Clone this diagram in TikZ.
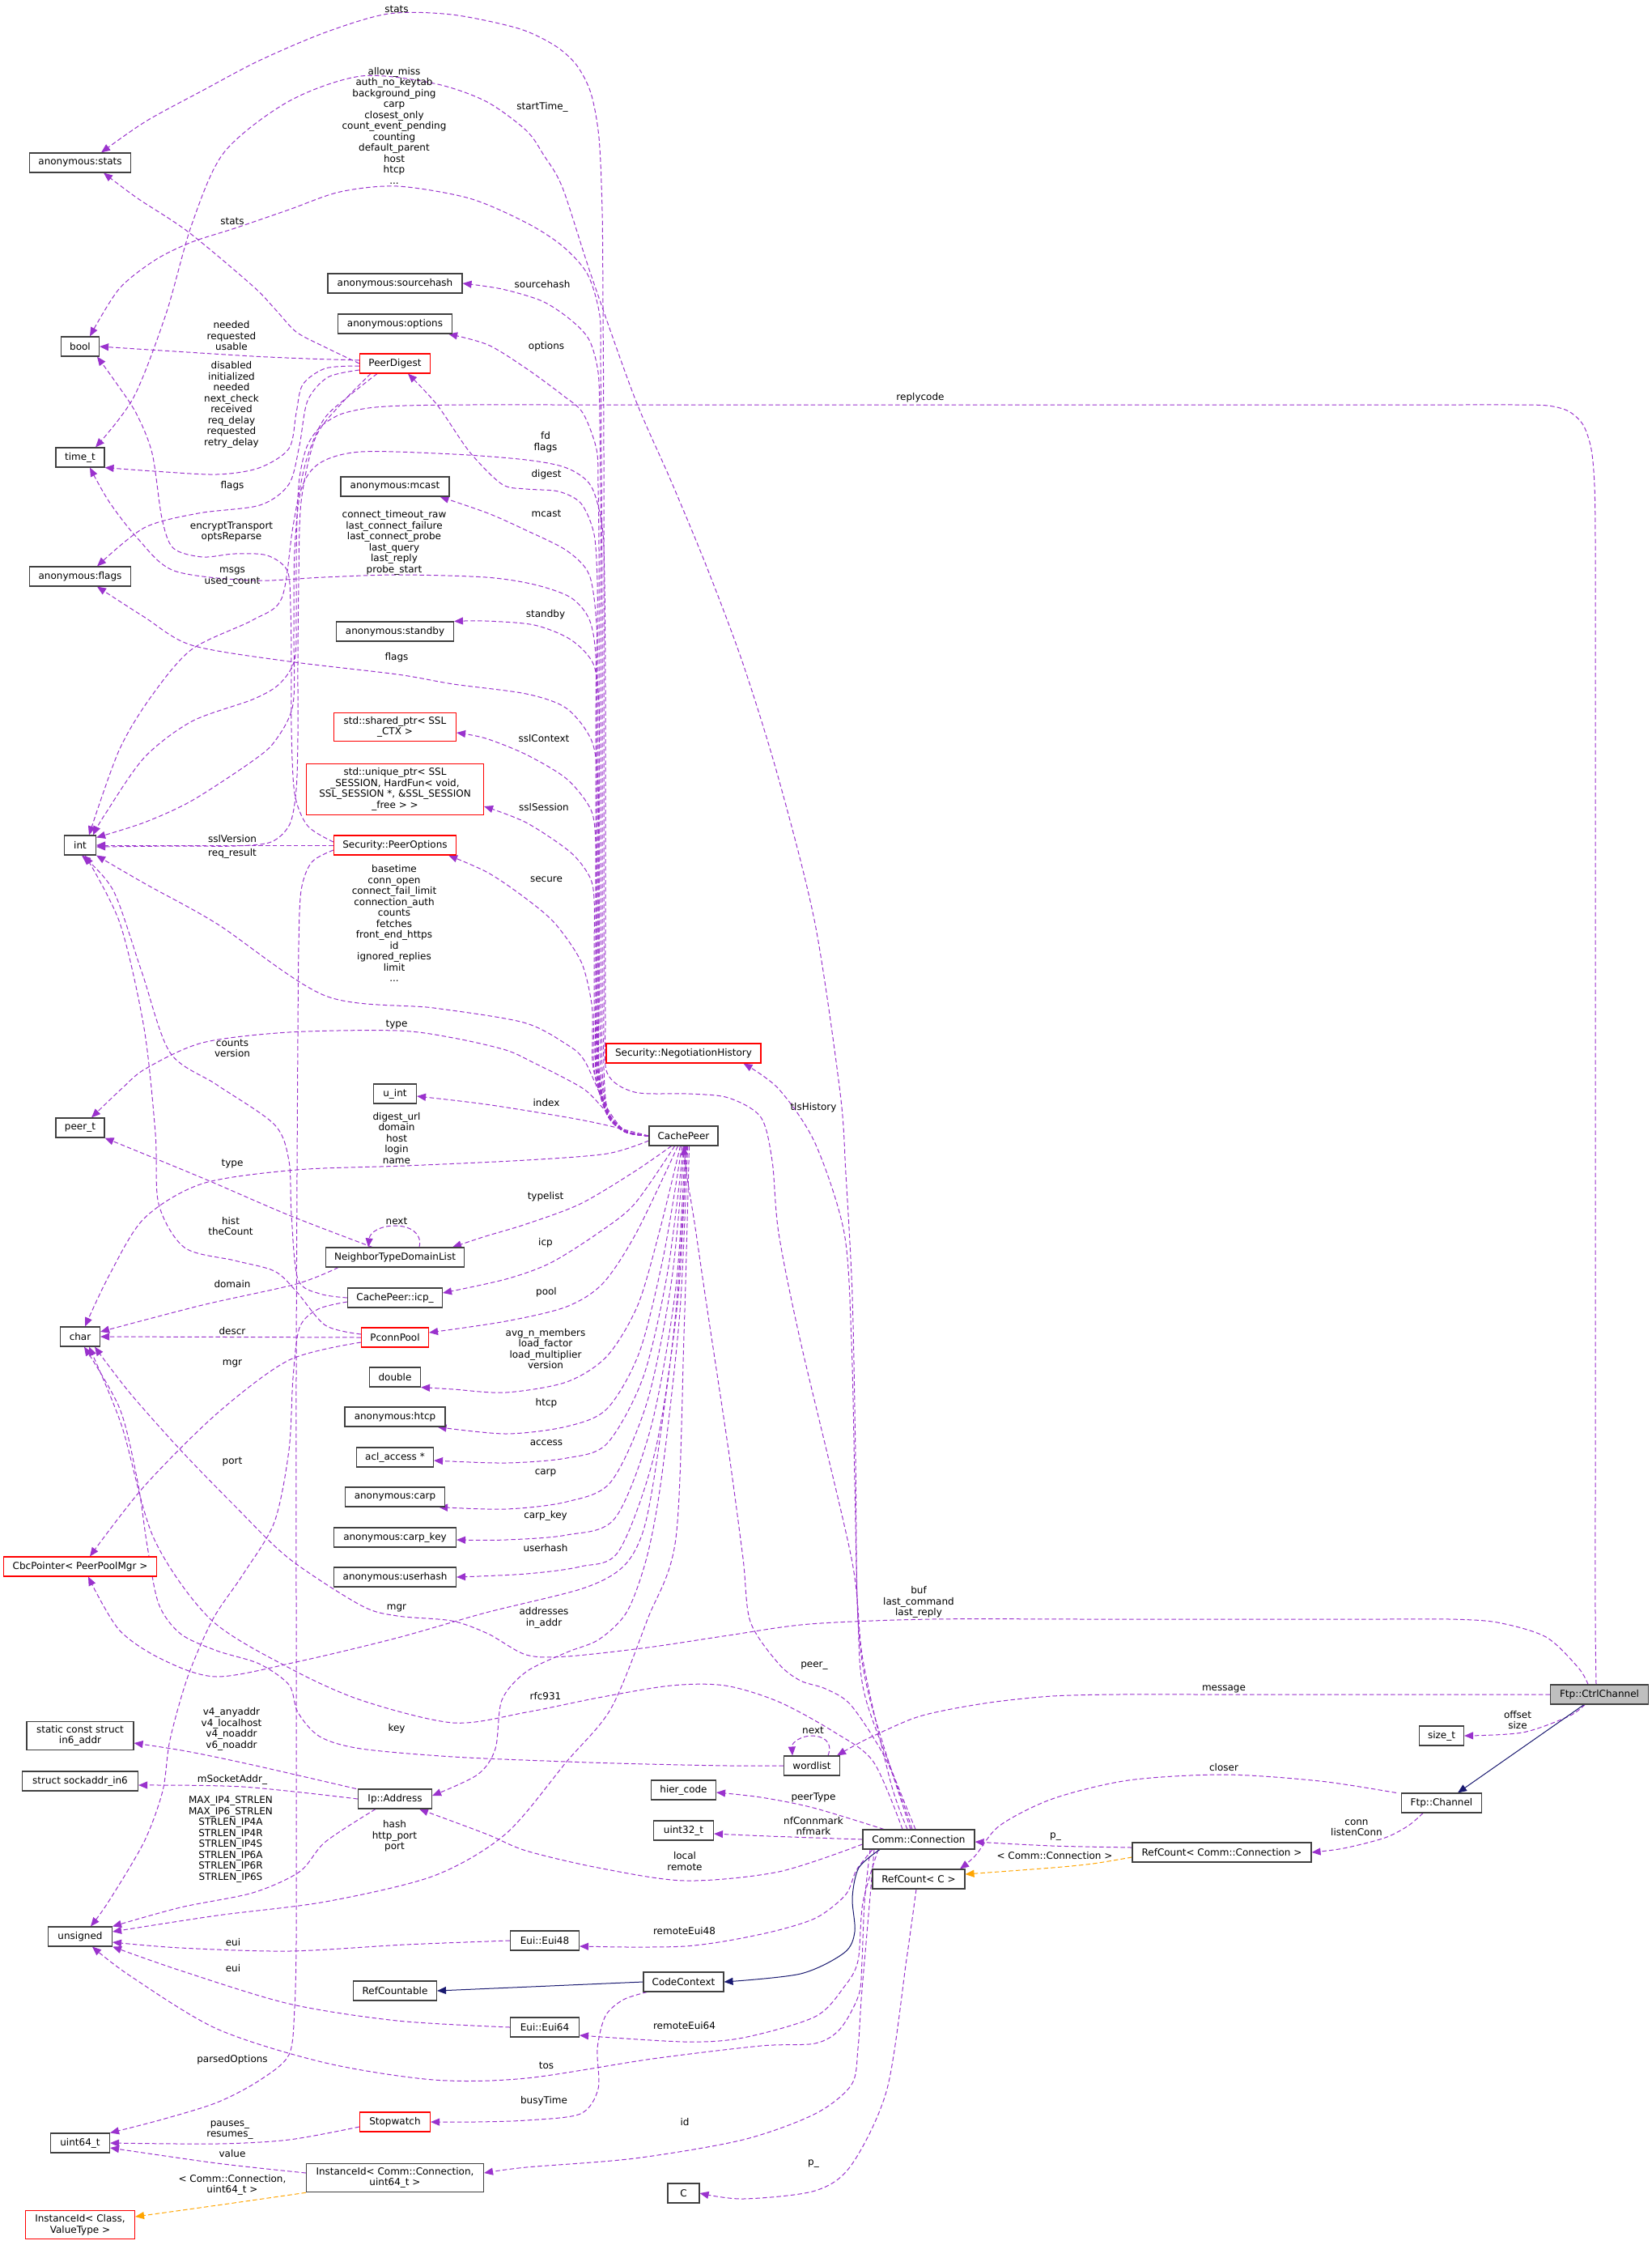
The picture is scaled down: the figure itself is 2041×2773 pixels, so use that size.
\documentclass[tikz,border=0pt]{standalone}
\usepackage{fontspec}
\setmainfont{DejaVu Sans}
\usetikzlibrary{arrows.meta,backgrounds}

\definecolor{memcol}{HTML}{9A32CD}
\definecolor{inhcol}{HTML}{191970}
\definecolor{tplcol}{HTML}{FFA500}
\definecolor{boxline}{HTML}{404040}
\definecolor{rootfill}{HTML}{BFBFBF}

\tikzset{
  cls/.style={draw=boxline, line width=1.1pt, fill=white, font=\fontsize{12}{13.5}\selectfont,
    inner xsep=2pt, inner ysep=5pt, minimum height=24pt, align=center},
  incls/.style={cls, draw=red},
  lbl/.style={font=\fontsize{12}{13.5}\selectfont, inner sep=0pt, align=center},
  mem/.style={memcol, line width=1pt, dash pattern=on 5.5pt off 3.2pt, -{Triangle[length=11pt,width=9pt]}},
  inh/.style={inhcol, line width=1pt, -{Triangle[length=11pt,width=9pt]}},
  tpl/.style={tplcol, line width=1pt, dash pattern=on 5.5pt off 3.2pt, -{Triangle[length=11pt,width=9pt]}},
}

\begin{document}
\begin{tikzpicture}[x=1pt, y=-1pt]
\useasboundingbox (0,0) rectangle (2041,2773);

% left column
\node[cls, minimum width=125pt] (stats) at (99,201) {anonymous:stats};
\node[cls, minimum width=47pt] (bool) at (99,428) {bool};
\node[cls, minimum width=60pt] (timet) at (99,565) {time\_t};
\node[cls, minimum width=125pt] (flags) at (99,712) {anonymous:flags};
\node[cls, minimum width=39pt] (int) at (99,1044) {int};
\node[cls, minimum width=60pt] (peert) at (99,1393) {peer\_t};
\node[cls, minimum width=49pt] (char) at (99,1651) {char};
\node[incls, minimum width=189pt] (cbc) at (99,1935) {CbcPointer< PeerPoolMgr >};
\node[cls, minimum width=132pt] (inaddr) at (99,2144) {static const struct\\in6\_addr};
\node[cls, minimum width=143pt] (sockin) at (99,2200) {struct sockaddr\_in6};
\node[cls, minimum width=79pt] (unsig) at (99,2392) {unsigned};
\node[cls, minimum width=73pt] (u64) at (99,2647) {uint64\_t};
\node[incls, minimum width=135pt] (instcv) at (99,2748) {InstanceId< Class,\\ValueType >};

% middle column
\node[cls, minimum width=166pt] (srchash) at (488,350) {anonymous:sourcehash};
\node[cls, minimum width=141pt] (opts) at (488,400) {anonymous:options};
\node[incls, minimum width=87pt] (pdig) at (488,449) {PeerDigest};
\node[cls, minimum width=134pt] (mcast) at (488,601) {anonymous:mcast};
\node[cls, minimum width=145pt] (standby) at (488,780) {anonymous:standby};
\node[incls, minimum width=151pt] (shptr) at (488,898) {std::shared\_ptr< SSL\\\_CTX >};
\node[incls, minimum width=219pt] (unptr) at (488,975) {std::unique\_ptr< SSL\\\_SESSION, HardFun< void,\\ SSL\_SESSION *, \&SSL\_SESSION\\\_free > >};
\node[incls, minimum width=151pt] (popts) at (488,1044) {Security::PeerOptions};
\node[cls, minimum width=53pt] (uint) at (488,1351) {u\_int};
\node[cls, minimum width=171pt] (ntdl) at (488,1553) {NeighborTypeDomainList};
\node[cls, minimum width=117pt] (icp) at (488,1603) {CachePeer::icp\_};
\node[incls, minimum width=83pt] (pconn) at (488,1652) {PconnPool};
\node[cls, minimum width=63pt] (dbl) at (488,1701) {double};
\node[cls, minimum width=124pt] (htcp) at (488,1750) {anonymous:htcp};
\node[cls, minimum width=95pt] (acl) at (488,1800) {acl\_access *};
\node[cls, minimum width=123pt] (carp) at (488,1849) {anonymous:carp};
\node[cls, minimum width=151pt] (carpkey) at (488,1899) {anonymous:carp\_key};
\node[cls, minimum width=151pt] (uhash) at (488,1948) {anonymous:userhash};
\node[cls, minimum width=91pt] (ipaddr) at (488,2222) {Ip::Address};
\node[cls, minimum width=103pt] (refcnt) at (488,2459) {RefCountable};
\node[incls, minimum width=87pt] (stopw) at (488,2621) {Stopwatch};
\node[cls, minimum width=219pt] (instcc) at (488,2690) {InstanceId< Comm::Connection,\\uint64\_t >};
\node[cls, minimum width=85pt] (eui48) at (673,2397) {Eui::Eui48};
\node[cls, minimum width=85pt] (eui64) at (673,2504) {Eui::Eui64};

% right part
\node[incls, minimum width=191pt] (neghist) at (844.5,1301) {Security::NegotiationHistory};
\node[cls, minimum width=85pt] (cpeer) at (844.5,1403) {CachePeer};
\node[cls, minimum width=80pt] (hier) at (844.5,2211) {hier\_code};
\node[cls, minimum width=74pt] (u32) at (844.5,2261) {uint32\_t};
\node[cls, minimum width=99pt] (codectx) at (844.5,2448) {CodeContext};
\node[cls, minimum width=39pt] (cc) at (844.5,2709) {C};
\node[cls, minimum width=69pt] (wlist) at (1003,2181) {wordlist};
\node[cls, minimum width=138pt] (conn) at (1135,2272) {Comm::Connection};
\node[cls, minimum width=114pt] (rcc) at (1135,2321) {RefCount< C >};
\node[cls, minimum width=221pt] (rccon) at (1509.5,2288) {RefCount< Comm::Connection >};
\node[cls, minimum width=55pt] (sizet) at (1781,2144) {size\_t};
\node[cls, minimum width=99pt] (ftpch) at (1781,2227) {Ftp::Channel};
\node[cls, fill=rootfill, minimum width=121pt] (ctrl) at (1976,2093) {Ftp::CtrlChannel};

\begin{scope}[on background layer]
\fill[white] (0,0) rectangle (2041,2773);

% CachePeer members going up the bundle
\draw[mem] plot[smooth] coordinates {(cpeer.west) (772,1396) (751,1372) (746,1320) (746,1240) (746,1120) (746,960) (746,760) (746,560) (745,380) (744,260) (740,170) (730,115) (712,80) (685,56) (640,35) (558,18) (480,17) (402,40) (320,75) (250,112) (180,150) ([xshift=26pt]stats.north)};
\draw[mem] plot[smooth] coordinates {(cpeer.west) (772,1397) (751,1374) (744,1320) (744,1240) (744,1120) (744,960) (744,750) (743,560) (742,450) (741,390) (726,339) (695,304) (650,275) (580,245) (491,230) (420,237) (357,259) (290,282) (237,299) (192,321) (147,357) ([xshift=12pt]bool.north)};
\draw[mem] plot[smooth] coordinates {(cpeer.west) (772,1397) (751,1375) (742,1320) (742,1240) (742,1120) (742,960) (742,780) (742,620) (741,520) (739,460) (728,420) (705,395) (670,372) (620,357) (srchash.east)};
\draw[mem] plot[smooth] coordinates {(cpeer.west) (772,1397) (750,1375) (740,1320) (740,1240) (740,1120) (740,960) (740,800) (740,680) (739,600) (737,555) (720,510) (695,488) (650,455) (603,426) ([xshift=-5pt]opts.south east)};
\draw[mem] plot[smooth] coordinates {(cpeer.west) (772,1397) (750,1375) (738,1320) (738,1240) (738,1120) (738,1000) (738,880) (738,790) (738,720) (734,660) (718,622) (690,607) (650,604) (620,598) (580,558) (540,500) ([xshift=16pt]pdig.south)};
\draw[mem] plot[smooth] coordinates {(cpeer.west) (772,1398) (750,1376) (737,1320) (737,1240) (737,1120) (737,1000) (737,900) (737,830) (737,770) (728,710) (700,680) (650,655) (603,634) ([xshift=-12pt]mcast.south east)};
\draw[mem] plot[smooth] coordinates {(cpeer.west) (772,1398) (750,1376) (736,1320) (736,1240) (736,1120) (736,1000) (736,900) (736,810) (728,765) (705,738) (660,722) (600,713) (491,710) (400,713) (312,717) (215,705) (170,665) (135,620) ([xshift=12pt]timet.south)};
\draw[mem] plot[smooth] coordinates {(cpeer.west) (772,1398) (750,1376) (740,1320) (740,1240) (740,1140) (740,1040) (740,950) (740,870) (733,820) (705,790) (660,772) (600,767) (standby.north east)};
\draw[mem] plot[smooth] coordinates {(cpeer.west) (772,1398) (750,1376) (739,1320) (739,1240) (739,1150) (739,1060) (739,970) (731,915) (700,875) (650,857) (560,845) (491,833) (357,817) (237,797) (178,762) ([xshift=21pt]flags.south)};
\draw[mem] plot[smooth] coordinates {(cpeer.west) (772,1398) (750,1376) (736,1320) (736,1240) (736,1160) (736,1090) (736,1040) (730,1000) (700,962) (650,932) (600,912) ([yshift=-7pt]shptr.east)};
\draw[mem] plot[smooth] coordinates {(cpeer.west) (772,1398) (750,1377) (734,1320) (734,1250) (734,1180) (734,1110) (728,1082) (704,1052) (650,1016) ([yshift=-21pt]unptr.east)};
\draw[mem] plot[smooth] coordinates {(cpeer.west) (772,1398) (750,1377) (733,1320) (732,1280) (731,1240) (718,1188) (686,1141) (650,1110) (603,1078) ([xshift=-10pt]popts.south east)};
\draw[mem] plot[smooth] coordinates {(cpeer.west) (772,1398) (748,1372) (725,1348) (700,1333) (660,1313) (625,1297) (560,1282) (491,1273) (357,1275) (250,1288) (180,1320) (150,1345) ([xshift=14pt]peert.north)};
\draw[mem] plot[smooth] coordinates {(cpeer.west) (772,1397) (748,1365) (722,1310) (700,1290) (647,1263) (536,1245) (402,1230) (268,1141) (180,1092) (int.south east)};
\draw[mem] plot[smooth] coordinates {(cpeer.west) (750,1390) (700,1380) (600,1364) ([yshift=-3pt]uint.east)};
\draw[mem] plot[smooth] coordinates {([yshift=-6pt]cpeer.west) (750,1425) (650,1433) (500,1440) (366,1445) (250,1462) (178,1505) (135,1575) ([xshift=6pt]char.north)};

% CachePeer members fanning down
\draw[mem] plot[smooth] coordinates {([xshift=-15pt]cpeer.south) (784,1447) (717,1487) (650,1512) (600,1527) ([xshift=-15pt]ntdl.north east)};
\draw[mem] plot[smooth] coordinates {([xshift=-11pt]cpeer.south) (784,1487) (739,1523) (680,1560) (625,1580) ([yshift=6pt]icp.east)};
\draw[mem] plot[smooth] coordinates {([xshift=-7pt]cpeer.south) (786,1523) (745,1585) (700,1614) (625,1632) ([yshift=6pt]pconn.east)};
\draw[mem] plot[smooth] coordinates {([xshift=-4pt]cpeer.south) (815,1520) (788,1612) (750,1675) (700,1707) (625,1720) (560,1716) (dbl.south east)};
\draw[mem] plot[smooth] coordinates {([xshift=-2pt]cpeer.south) (820,1550) (790,1670) (750,1740) (700,1762) (625,1771) ([xshift=-10pt]htcp.south east)};
\draw[mem] plot[smooth] coordinates {(cpeer.south) (825,1570) (795,1700) (750,1783) (700,1801) (625,1807) ([yshift=-4pt]acl.east)};
\draw[mem] plot[smooth] coordinates {([xshift=1pt]cpeer.south) (830,1580) (800,1730) (755,1830) (700,1855) (625,1864) ([xshift=-8pt]carp.south east)};
\draw[mem] plot[smooth] coordinates {([xshift=2pt]cpeer.south) (835,1590) (805,1760) (760,1875) (700,1896) (625,1902) ([yshift=-3pt]carpkey.east)};
\draw[mem] plot[smooth] coordinates {([xshift=3pt]cpeer.south) (838,1600) (810,1790) (765,1915) (717,1935) (650,1944) (uhash.east)};
\draw[mem] plot[smooth] coordinates {([xshift=5pt]cpeer.south) (840,1620) (818,1820) (800,1920) (775,1990) (740,2025) (700,2041) (650,2065) (620,2100) (612,2160) (590,2192) ([yshift=4pt]ipaddr.east)};
\draw[mem] plot[smooth] coordinates {([xshift=4pt]cpeer.south) (835,1620) (812,1800) (795,1890) (770,1935) (720,1962) (600,1992) (491,2023) (370,2052) (268,2071) (201,2050) (147,2013) ([xshift=10pt]cbc.south)};
\draw[mem] plot[smooth] coordinates {([xshift=7pt]cpeer.south) (845,1650) (835,1900) (800,2000) (755,2110) (700,2176) (625,2265) (536,2317) (402,2349) (268,2366) ([yshift=6pt]unsig.east)};

% PeerDigest
\draw[mem] plot[smooth] coordinates {(pdig.west) (400,428) (366,410) (340,382) (312,353) (232,286) (170,245) ([xshift=29pt]stats.south)};
\draw[mem] plot[smooth] coordinates {([yshift=4pt]pdig.west) (380,443) (312,440) (200,433) (bool.east)};
\draw[mem] plot[smooth] coordinates {([yshift=-3pt]pdig.west) (402,455) (374,475) (366,510) (357,554) (320,578) (268,586) (190,582) (timet.south east)};
\draw[mem] plot[smooth] coordinates {([yshift=-8pt]pdig.west) (405,466) (380,495) (370,550) (357,598) (321,624) (245,634) (178,652) ([xshift=21pt]flags.north)};
\draw[mem] plot[smooth] coordinates {([xshift=-22pt]pdig.south) (430,490) (400,518) (378,570) (362,650) (348,739) (312,766) (237,802) (187,860) (147,927) ([xshift=11pt]int.north)};
\draw[mem] plot[smooth] coordinates {([xshift=-30pt]pdig.south) (425,495) (390,540) (372,620) (369,720) (368,820) (368,910) (366,975) (358,1018) (335,1040) (290,1045) (220,1045) ([yshift=-2pt]int.east)};

% Security::PeerOptions
\draw[mem] (popts.west) -- (int.east);
\draw[mem] plot[smooth] coordinates {([yshift=4pt]popts.west) (380,1020) (364,980) (360,900) (360,820) (359,750) (355,705) (330,686) (290,684) (250,688) (214,677) (200,640) (188,560) (168,510) (140,468) ([xshift=21pt]bool.south)};
\draw[mem] plot[smooth] coordinates {([yshift=-6pt]popts.west) (385,1065) (372,1100) (369,1170) (368,1280) (367,1450) (366,1700) (366,2000) (366,2250) (366,2400) (364,2480) (357,2538) (320,2570) (268,2597) (200,2618) (u64.north east)};

% CachePeer::icp_, NeighborTypeDomainList, PconnPool
\draw[mem] plot[smooth] coordinates {(icp.west) (395,1598) (368,1580) (360,1500) (357,1434) (339,1389) (268,1340) (210,1300) (175,1200) (140,1100) ([xshift=2pt]int.south)};
\draw[mem] plot[smooth] coordinates {([yshift=-5pt]icp.west) (393,1617) (370,1640) (362,1702) (357,1791) (339,1880) (300,1945) (263,2000) (232,2071) (210,2149) (201,2212) (178,2275) (134,2349) ([xshift=13pt]unsig.north)};
\draw[mem] plot[smooth] coordinates {([xshift=-28pt]ntdl.north) (357,1501) (250,1455) (peert.south east)};
\draw[mem] plot[smooth] coordinates {([xshift=-70pt]ntdl.south) (366,1586) (250,1612) ([yshift=6pt]char.east)};
\draw[mem] ([xshift=30pt]ntdl.north) .. controls (522,1522) and (505,1514) .. (488,1514) .. controls (470,1514) and (457,1522) .. ([xshift=-33pt]ntdl.north);
\draw[mem] (pconn.west) -- (char.east);
\draw[mem] plot[smooth] coordinates {([yshift=4pt]pconn.west) (402,1637) (366,1595) (339,1570) (290,1557) (228,1541) (196,1487) (192,1400) (178,1270) (148,1140) ([xshift=6pt]int.south)};
\draw[mem] plot[smooth] coordinates {([yshift=-6pt]pconn.west) (357,1680) (268,1746) (178,1836) ([xshift=12pt]cbc.north)};

% Ip::Address, Eui
\draw[mem] plot[smooth] coordinates {([xshift=-48pt]ipaddr.north) (312,2180) (230,2163) ([yshift=-9pt]inaddr.east)};
\draw[mem] plot[smooth] coordinates {(ipaddr.west) (300,2207) ([yshift=-5pt]sockin.east)};
\draw[mem] plot[smooth] coordinates {([xshift=-24pt]ipaddr.south) (402,2275) (370,2312) (312,2338) (223,2356) (unsig.north east)};
\draw[mem] plot[smooth] coordinates {(eui48.west) (500,2402) (357,2410) (223,2406) ([yshift=-7pt]unsig.east)};
\draw[mem] plot[smooth] coordinates {(eui64.west) (491,2496) (357,2475) (223,2434) (unsig.south east)};

% Comm::Connection
\draw[mem] plot[smooth] coordinates {([xshift=-60pt]conn.south) (1068,2350) (1065,2422) (1061,2464) (1038,2506) (1007,2524) (940,2527) (806,2543) (650,2567) (536,2569) (402,2548) (268,2506) (160,2440) ([xshift=15pt]unsig.south)};
\draw[mem] plot[smooth] coordinates {([xshift=-55pt]conn.south) (1070,2400) (1064,2470) (1060,2530) (1052,2575) (1007,2611) (918,2643) (784,2666) (650,2677) ([yshift=6pt]instcc.east)};
\draw[mem] plot[smooth] coordinates {([xshift=-57pt]conn.south) (1058,2310) (1045,2340) (1010,2368) (962,2384) (900,2397) (846,2404) (780,2405) ([yshift=-7pt]eui48.east)};
\draw[mem] plot[smooth] coordinates {([xshift=-50pt]conn.south) (1066,2350) (1060,2422) (1043,2454) (1007,2491) (918,2517) (846,2522) ([yshift=-10pt]eui64.east)};
\draw[inh] plot[smooth] coordinates {([xshift=-48pt]conn.south) (1061,2307) (1053,2344) (1056,2386) (1043,2412) (989,2438) (codectx.east)};
\draw[mem] plot[smooth] coordinates {([yshift=-6pt]conn.west) (962,2312) (846,2323) (739,2307) (650,2286) (600,2265) ([xshift=30pt]ipaddr.south)};
\draw[mem] plot[smooth] coordinates {([xshift=-43pt]conn.north) (1005,2233) (940,2220) ([yshift=-3pt]hier.east)};
\draw[mem] plot[smooth] coordinates {(conn.west) (950,2268) ([yshift=-4pt]u32.east)};
\draw[mem] plot[smooth] coordinates {([xshift=-20pt]conn.north) (1079,2176) (1030,2139) (962,2102) (896,2082) (829,2082) (739,2097) (650,2115) (560,2128) (446,2100) (357,2060) (260,2000) (190,1900) (150,1760) ([xshift=11pt]char.south)};
\draw[mem] plot[smooth] coordinates {([xshift=-8pt]conn.north) (1096,2176) (1052,2107) (1020,2086) (989,2076) (962,2055) (927,2003) (918,1925) (900,1791) (873,1612) (858,1510) (849,1455) (cpeer.south)};
\draw[mem] plot[smooth] coordinates {([xshift=-4pt]conn.north) (1070,2100) (1060,2000) (1056,1830) (1052,1657) (1043,1523) (1007,1412) (962,1345) ([xshift=74pt]neghist.south)};
\draw[mem] plot[smooth] coordinates {([xshift=-10pt]conn.north) (1075,2100) (1060,2000) (1057,1800) (1053,1600) (1045,1450) (1038,1350) (1007,1141) (962,962) (918,820) (873,700) (829,594) (784,491) (730,339) (695,232) (672,192) (650,161) (600,125) (536,103) (446,94) (357,125) (277,188) (237,277) (205,388) (165,491) ([xshift=19pt]timet.north)};
\draw[mem] plot[smooth] coordinates {([xshift=-14pt]conn.north) (1100,2200) (1066,2050) (1052,1925) (989,1657) (962,1523) (954,1434) (940,1380) (900,1356) (851,1351) (784,1349) (750,1325) (748,1260) (748,1150) (748,1000) (748,850) (747,720) (744,650) (730,600) (700,578) (650,568) (560,561) (446,558) (395,572) (372,605) (364,680) (363,780) (362,870) (340,915) (312,940) (237,989) (178,1016) ([yshift=-3pt]int.north east)};

% CodeContext, Stopwatch, InstanceId
\draw[inh] (codectx.west) -- (refcnt.east);
\draw[mem] plot[smooth] coordinates {([xshift=-45pt]codectx.south) (770,2470) (748,2490) (738,2530) (739,2580) (717,2611) (650,2619) (585,2621) (stopw.east)};
\draw[mem] plot[smooth] coordinates {([yshift=-6pt]stopw.west) (357,2643) (268,2648) (u64.east)};
\draw[mem] plot[smooth] coordinates {([yshift=6pt]instcc.west) (268,2672) ([yshift=-6pt]u64.east)};
\draw[tpl] plot[smooth] coordinates {(instcc.south west) (268,2724) ([yshift=10pt]instcv.east)};

% wordlist, RefCount
\draw[mem] plot[smooth] coordinates {(wlist.west) (900,2181) (800,2179) (700,2176) (560,2170) (446,2160) (395,2145) (368,2115) (357,2081) (320,2055) (268,2039) (223,2018) (196,1981) (182,1910) (170,1830) (148,1740) ([xshift=5pt]char.south)};
\draw[mem] ([xshift=20pt]wlist.north) .. controls (1030,2150) and (1015,2144) .. (1003,2144) .. controls (990,2144) and (978,2152) .. ([xshift=-24pt]wlist.north);
\draw[mem] plot[smooth] coordinates {([xshift=-3pt]rcc.south) (1120,2420) (1096,2580) (1052,2674) (1007,2706) (918,2716) (cc.east)};

% Ftp::CtrlChannel and Ftp::Channel
\draw[mem] plot[smooth] coordinates {([xshift=-4pt]ctrl.north) (1971,2000) (1971,1800) (1971,1600) (1971,1400) (1971,1200) (1971,1000) (1971,800) (1971,670) (1970,600) (1966,555) (1956,525) (1938,508) (1912,501) (1870,500) (1800,500) (1700,500) (1500,500) (1300,500) (1100,500) (900,500) (700,500) (580,500) (500,501) (455,504) (420,512) (395,528) (379,552) (370,590) (367,640) (366,700) (366,760) (364,815) (345,845) (312,864) (237,891) (178,936) (129,1007) ([xshift=16pt]int.north)};
\draw[mem] plot[smooth] coordinates {([xshift=-14pt]ctrl.north) (1950,2060) (1910,2022) (1850,2004) (1791,2000) (1700,2000) (1550,2000) (1350,2000) (1150,2000) (1000,2006) (900,2020) (800,2035) (700,2046) (650,2044) (603,2018) (558,2002) (491,1996) (446,1983) (357,1925) (290,1860) (223,1791) (160,1720) ([xshift=18pt]char.south)};
\draw[mem] plot[smooth] coordinates {(ctrl.west) (1800,2093) (1650,2093) (1500,2093) (1380,2093) (1300,2095) (1230,2102) (1170,2112) (1127,2123) (1069,2149) ([xshift=31pt]wlist.north)};
\draw[mem] plot[smooth] coordinates {([xshift=-18pt]ctrl.south) (1938,2120) (1881,2140) (sizet.east)};
\draw[inh] ([xshift=-19pt]ctrl.south) -- ([xshift=20pt]ftpch.north);
\draw[mem] plot[smooth] coordinates {([xshift=-56pt]ftpch.north) (1631,2200) (1513,2192) (1394,2199) (1300,2222) (1235,2255) (1205,2292) ([xshift=51pt]rcc.north)};
\draw[mem] plot[smooth] coordinates {([xshift=-23pt]ftpch.south) (1740,2255) (1711,2270) (1660,2283) (rccon.east)};
\draw[mem] plot[smooth] coordinates {([yshift=6pt]rccon.west) (1300,2280) ([yshift=-3pt]conn.east)};
\draw[tpl] plot[smooth] coordinates {([yshift=-6pt]rccon.west) (1350,2302) (1300,2307) ([yshift=6pt]rcc.east)};
\end{scope}

% edge labels
\node[lbl] (lstatscp) at (490,11) {stats};
\node[lbl] (lboolcp) at (487,155) {allow\_miss\\auth\_no\_keytab\\background\_ping\\carp\\closest\_only\\count\_event\_pending\\counting\\default\_parent\\host\\htcp\\...};
\node[lbl] (lstart) at (670,132) {startTime\_};
\node[lbl] (lstatspd) at (287,273) {stats};
\node[lbl] (lsrc) at (670,351) {sourcehash};
\node[lbl] (lopts) at (675,428) {options};
\node[lbl] (lboolpd) at (286,415) {needed\\requested\\usable};
\node[lbl] (ltimepd) at (286,500) {disabled\\initialized\\needed\\next\_check\\received\\req\_delay\\requested\\retry\_delay};
\node[lbl] (lfd) at (674,546) {fd\\flags};
\node[lbl] (ldigest) at (675,586) {digest};
\node[lbl] (lflagspd) at (287,600) {flags};
\node[lbl] (lmcast) at (675,634) {mcast};
\node[lbl] (lencr) at (286,657) {encryptTransport\\optsReparse};
\node[lbl] (ltimecp) at (487,670.5) {connect\_timeout\_raw\\last\_connect\_failure\\last\_connect\_probe\\last\_query\\last\_reply\\probe\_start};
\node[lbl] (lmsgs) at (287,712.5) {msgs\\used\_count};
\node[lbl] (lstandby) at (674,759) {standby};
\node[lbl] (lflagscp) at (490,812) {flags};
\node[lbl] (lctx) at (672,912) {sslContext};
\node[lbl] (lsess) at (672,997) {sslSession};
\node[lbl] (lsslver) at (287,1036) {sslVersion};
\node[lbl] (lreqres) at (287,1054) {req\_result};
\node[lbl] (lsecure) at (675,1086) {secure};
\node[lbl] (lintcp) at (487,1140.5) {basetime\\conn\_open\\connect\_fail\_limit\\connection\_auth\\counts\\fetches\\front\_end\_https\\id\\ignored\_replies\\limit\\...};
\node[lbl] (ltypecp) at (490,1266) {type};
\node[lbl] (lcounts) at (287,1295) {counts\\version};
\node[lbl] (lreply) at (1137,491) {replycode};
\node[lbl] (ltls) at (1005,1368) {tlsHistory};
\node[lbl] (lindex) at (675,1362.5) {index};
\node[lbl] (lcharcp) at (490,1406) {digest\_url\\domain\\host\\login\\name};
\node[lbl] (ltypent) at (287,1437.5) {type};
\node[lbl] (ltypelist) at (674,1478.6) {typelist};
\node[lbl] (lhist) at (285,1514.5) {hist\\theCount};
\node[lbl] (lnextnt) at (490,1508.5) {next};
\node[lbl] (licp) at (674,1535) {icp};
\node[lbl] (ldomain) at (287,1586) {domain};
\node[lbl] (lpool) at (675,1596) {pool};
\node[lbl] (ldescr) at (287,1644) {descr};
\node[lbl] (ldbl) at (674,1666) {avg\_n\_members\\load\_factor\\load\_multiplier\\version};
\node[lbl] (lmgrpc) at (287,1684) {mgr};
\node[lbl] (lhtcp) at (675,1733.5) {htcp};
\node[lbl] (laccess) at (675,1782.6) {access};
\node[lbl] (lport) at (287,1806) {port};
\node[lbl] (lcarp) at (674,1819) {carp};
\node[lbl] (lcarpkey) at (674,1872) {carp\_key};
\node[lbl] (luhash) at (674,1911.6) {userhash};
\node[lbl] (lmgrcp) at (490,1986) {mgr};
\node[lbl] (laddr) at (672,1998.5) {addresses\\in\_addr};
\node[lbl] (lbuf) at (1135,1979) {buf\\last\_command\\last\_reply};
\node[lbl] (lpeer) at (1006,2058) {peer\_};
\node[lbl] (lrfc) at (674,2095) {rfc931};
\node[lbl] (lkey) at (490,2135) {key};
\node[lbl] (lv4) at (286,2136) {v4\_anyaddr\\v4\_localhost\\v4\_noaddr\\v6\_noaddr};
\node[lbl] (lnextwl) at (1004.5,2137) {next};
\node[lbl] (lsock) at (287,2198) {mSocketAddr\_};
\node[lbl] (lptype) at (1005,2220) {peerType};
\node[lbl] (lnf) at (1005,2255.5) {nfConnmark\\nfmark};
\node[lbl] (lmax) at (285,2272) {MAX\_IP4\_STRLEN\\MAX\_IP6\_STRLEN\\STRLEN\_IP4A\\STRLEN\_IP4R\\STRLEN\_IP4S\\STRLEN\_IP6A\\STRLEN\_IP6R\\STRLEN\_IP6S};
\node[lbl] (lhash) at (487.5,2268) {hash\\http\_port\\port};
\node[lbl] (llocal) at (846,2299) {local\\remote};
\node[lbl] (lpconn) at (1304,2269) {p\_};
\node[lbl] (ltplconn) at (1303,2292) {< Comm::Connection >};
\node[lbl] (leui48) at (845.5,2385) {remoteEui48};
\node[lbl] (leuia) at (288,2399) {eui};
\node[lbl] (leuib) at (288,2431) {eui};
\node[lbl] (leui64) at (845.5,2502) {remoteEui64};
\node[lbl] (lparsed) at (287,2544) {parsedOptions};
\node[lbl] (ltos) at (675,2551) {tos};
\node[lbl] (lbusy) at (672,2595) {busyTime};
\node[lbl] (lid) at (846,2621) {id};
\node[lbl] (lpause) at (284,2631) {pauses\_\\resumes\_};
\node[lbl] (lvalue) at (287,2660) {value};
\node[lbl] (lpc) at (1005,2673) {p\_};
\node[lbl] (ltplinst) at (287,2699) {< Comm::Connection,\\uint64\_t >};
\node[lbl] (lmsg) at (1512,2086) {message};
\node[lbl] (loffset) at (1875,2124.5) {offset\\size};
\node[lbl] (lcloser) at (1512,2183) {closer};
\node[lbl] (lconn) at (1676,2257.5) {conn\\listenConn};
\end{tikzpicture}
\end{document}
